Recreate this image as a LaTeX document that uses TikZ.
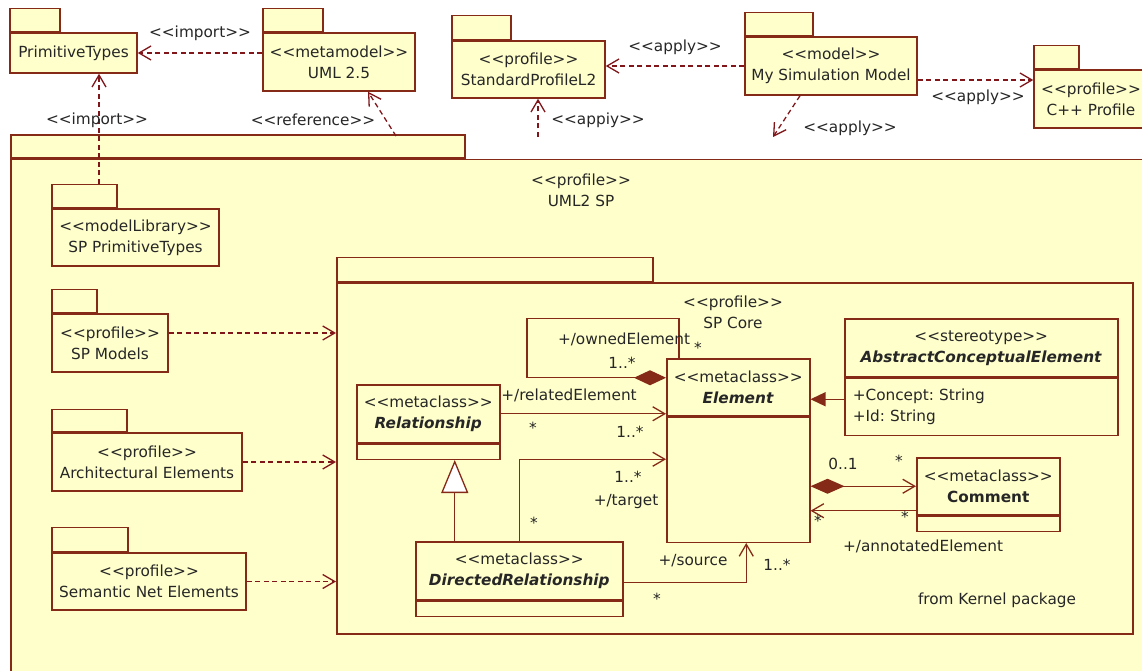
\documentclass[tikz,border=0pt]{standalone}
\usepackage{fontspec}
\setmainfont{DejaVu Sans}[Ligatures=TeXOff]
\usetikzlibrary{arrows.meta}
\definecolor{umlfill}{RGB}{255,255,204}
\definecolor{umlline}{RGB}{133,42,22}
\definecolor{umldep}{RGB}{128,22,26}
\newcommand{\umlfont}{\fontsize{15.3}{21}\selectfont\frenchspacing}

\begin{document}
\begin{tikzpicture}[x=1pt,y=-1pt,every node/.style={font=\umlfont,text=black!85},
  box/.style={draw=umlline,fill=umlfill,line width=1.5pt,inner sep=0pt,align=center},
  dep/.style={draw=umldep,line width=1.3pt,dash pattern=on 5pt off 3.5pt,-{Straight Barb[length=12pt,width=14pt]}},
  assoc/.style={draw=umlline,line width=1.3pt},
  barb/.style={-{Straight Barb[length=12pt,width=14pt]}},
  lbl/.style={inner sep=0pt}]
  \useasboundingbox (0,0) rectangle (1142,671);
  % outer profile
  \node[box,anchor=north west,minimum width=1160pt,minimum height=540pt] (umlsp) at (10,159) {};
  \node[box,anchor=south west,minimum width=454pt,minimum height=23pt] (umlsptab) at (umlsp.north west) {};
  \node[align=center] (umlsptitle) at (581,190.5) {<<profile>>\\UML2 SP};
  % top row
  \node[box,minimum width=127pt,minimum height=40pt] (primtypes) at (73.5,53) {PrimitiveTypes};
  \node[box,anchor=south west,minimum width=50pt,minimum height=23pt] (primtypestab) at (primtypes.north west) {};
  \node[box,minimum width=152pt,minimum height=58pt] (uml) at (339,62) {<<metamodel>>\\UML 2.5};
  \node[box,anchor=south west,minimum width=60pt,minimum height=23pt] (umltab) at (uml.north west) {};
  \node[box,minimum width=153pt,minimum height=57pt] (stdprof) at (528.5,69.5) {<<profile>>\\StandardProfileL2};
  \node[box,anchor=south west,minimum width=59pt,minimum height=24pt] (stdproftab) at (stdprof.north west) {};
  \node[box,minimum width=172pt,minimum height=58pt] (mysim) at (831,66) {<<model>>\\My Simulation Model};
  \node[box,anchor=south west,minimum width=68pt,minimum height=23pt] (mysimtab) at (mysim.north west) {};
  \node[box,minimum width=114pt,minimum height=58pt] (cpp) at (1091,99) {<<profile>>\\C++ Profile};
  \node[box,anchor=south west,minimum width=45pt,minimum height=23pt] (cpptab) at (cpp.north west) {};
  % packages inside
  \node[box,minimum width=167pt,minimum height=57pt] (splib) at (135.5,237.5) {<<modelLibrary>>\\SP PrimitiveTypes};
  \node[box,anchor=south west,minimum width=65pt,minimum height=23pt] (splibtab) at (splib.north west) {};
  \node[box,minimum width=116pt,minimum height=58pt] (spmodels) at (110,343) {<<profile>>\\SP Models};
  \node[box,anchor=south west,minimum width=45pt,minimum height=23pt] (spmodelstab) at (spmodels.north west) {};
  \node[box,minimum width=190pt,minimum height=58pt] (archel) at (147,462) {<<profile>>\\Architectural Elements};
  \node[box,anchor=south west,minimum width=75pt,minimum height=22pt] (archeltab) at (archel.north west) {};
  \node[box,minimum width=194pt,minimum height=57pt] (semnet) at (149,581.5) {<<profile>>\\Semantic Net Elements};
  \node[box,anchor=south west,minimum width=76pt,minimum height=24pt] (semnettab) at (semnet.north west) {};
  \node[box,anchor=north west,minimum width=796pt,minimum height=351pt] (spcore) at (336,282) {};
  \node[box,anchor=south west,minimum width=316pt,minimum height=24pt] (spcoretab) at (spcore.north west) {};
  \node[align=center] (spcoretitle) at (733,312.5) {<<profile>>\\SP Core};
  % classes
  \node[box,anchor=north west,minimum width=143pt,minimum height=57pt] (elemhead) at (666,358) {<<metaclass>>\\\textbf{\textit{Element}}};
  \node[box,anchor=north west,minimum width=143pt,minimum height=125pt] (elembody) at (elemhead.south west) {};
  \node[box,anchor=north west,minimum width=143pt,minimum height=58pt] (relhead) at (356,384) {<<metaclass>>\\\textbf{\textit{Relationship}}};
  \node[box,anchor=north west,minimum width=143pt,minimum height=15pt] (relbody) at (relhead.south west) {};
  \node[box,anchor=north west,minimum width=207pt,minimum height=58pt] (drhead) at (415,541) {<<metaclass>>\\\textbf{\textit{DirectedRelationship}}};
  \node[box,anchor=north west,minimum width=207pt,minimum height=15pt] (drbody) at (drhead.south west) {};
  \node[box,anchor=north west,minimum width=273pt,minimum height=58pt] (acehead) at (844,318) {<<stereotype>>\\\textbf{\textit{AbstractConceptualElement}}};
  \node[box,anchor=north west,minimum width=273pt,minimum height=57pt,align=left,text width=257pt] (acebody) at (acehead.south west) {+Concept: String\\+Id: String};
  \node[box,anchor=north west,minimum width=143pt,minimum height=57pt] (comhead) at (916,457) {<<metaclass>>\\\textbf{Comment}};
  \node[box,anchor=north west,minimum width=143pt,minimum height=15pt] (combody) at (comhead.south west) {};
  \node (kernel) at (997,600) {from Kernel package};
  % dependencies
  \coordinate (refstart) at (396,136);
  \coordinate (stdapp) at (538,137);
  \coordinate (mysimapp) at (773,137);
  \draw[dep] (primtypes.east -| uml.west) -- (primtypes.east);
  \draw[dep] ([xshift=14.5pt]splibtab.north) -- ([xshift=14.5pt]splibtab.north |- primtypes.south);
  \draw[dep] (refstart) -- ([xshift=29pt]uml.south);
  \draw[dep] (mysim.west) -- (mysim.west -| stdprof.east);
  \draw[dep] ([yshift=-14pt]mysim.east) -- ([yshift=-14pt]mysim.east -| cpp.west);
  \draw[dep] (stdapp) -- (stdapp |- stdprof.south);
  \draw[dep] ([xshift=-31pt]mysim.south) -- (mysimapp);
  \draw[dep] ([yshift=10pt]spmodels.east) -- ([yshift=10pt]spmodels.east -| spcore.west);
  \draw[dep] (archel.east) -- (archel.east -| spcore.west);
  \draw[dep] (semnet.east) -- (semnet.east -| spcore.west);
  \node[lbl] (impa) at (200,33) {<<import>>};
  \node[lbl] (impb) at (97,120) {<<import>>};
  \node[lbl] (refl) at (313,120) {<<reference>>};
  \node[lbl] (appa) at (675,47) {<<apply>>};
  \node[lbl] (appb) at (598,120) {<<appiy>>};
  \node[lbl] (appc) at (850,128) {<<apply>>};
  \node[lbl] (appd) at (978,97) {<<apply>>};
  % associations
  \draw[assoc,{Diamond[length=32pt,width=15pt]}-] ([yshift=9.5pt]elemhead.west) -- ++(-139,0) -- ++(0,-59) -- ++(152,0) -- ++(0,40);
  \draw[assoc,barb] (relhead.east) -- (relhead.east -| elemhead.west);
  \draw[assoc,barb] (drhead.north) |- ([yshift=20.5pt]elembody.west);
  \draw[assoc,-{Triangle[fill=white,length=33pt,width=27pt]}] ([xshift=-64.5pt]drhead.north) -- ([xshift=-64.5pt]drhead.north |- relbody.south);
  \draw[assoc,barb] ([yshift=-12pt]drhead.east) -| ([xshift=8pt]elembody.south);
  \draw[assoc,-{Triangle[length=15pt,width=14pt]}] ([yshift=7.5pt]acebody.west) -- ([yshift=7.5pt]acebody.west -| elemhead.east);
  \draw[assoc,{Diamond[length=34pt,width=15pt]}-{Straight Barb[length=12pt,width=14pt]}] (comhead.west -| elembody.east) -- (comhead.west);
  \draw[assoc,barb] ([yshift=-24.5pt]comhead.west) -- ([yshift=-24.5pt]comhead.west -| elembody.east);
  \node[lbl] (ownl) at (624,339) {+/ownedElement};
  \node[lbl] (ownm) at (622,363) {1..*};
  \node[lbl] (owns) at (698,348) {*};
  \node[lbl] (rell) at (569,395) {+/relatedElement};
  \node[lbl] (rels) at (533,428) {*};
  \node[lbl] (relm) at (630,432) {1..*};
  \node[lbl] (tgtm) at (628,477) {1..*};
  \node[lbl] (tgtl) at (626,502) {+/target};
  \node[lbl] (tgts) at (534,523) {*};
  \node[lbl] (srcl) at (693,561) {+/source};
  \node[lbl] (srcm) at (777,565) {1..*};
  \node[lbl] (srcs) at (657,599) {*};
  \node[lbl] (comm) at (843,464) {0..1};
  \node[lbl] (coms) at (899,461) {*};
  \node[lbl] (anns) at (905,517) {*};
  \node[lbl] (anne) at (818,521) {*};
  \node[lbl] (annl) at (923,546) {+/annotatedElement};
\end{tikzpicture}
\end{document}
